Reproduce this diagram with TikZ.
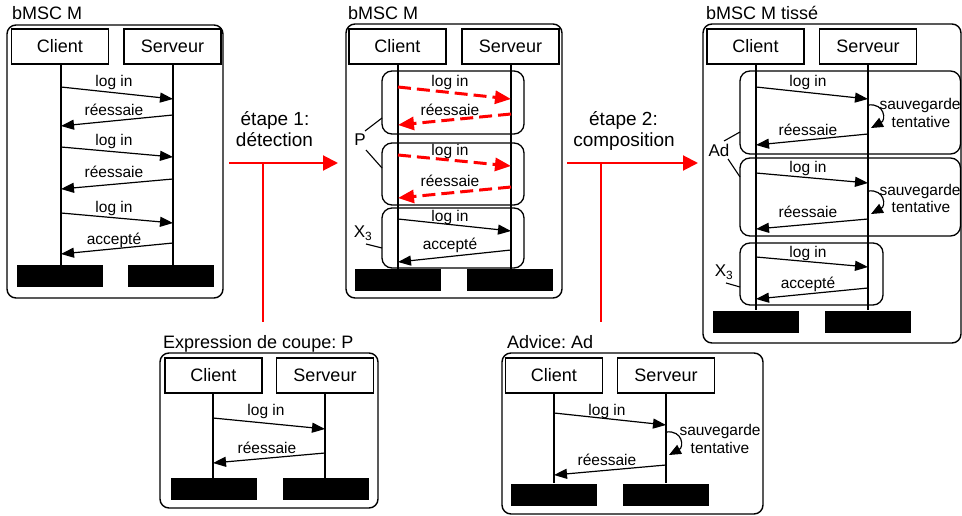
\documentclass[tikz,border=0pt]{standalone}
\usepackage{fontspec}
\setmainfont{Liberation Sans}
\usetikzlibrary{arrows.meta}
\frenchspacing
\begin{document}
\begin{tikzpicture}[x=1pt,y=-1pt,
  frame/.style={draw, line width=1.4pt, rounded corners=9pt},
  head/.style={draw, line width=1.2pt, minimum width=97pt, minimum height=35pt, inner sep=0pt, font=\fontsize{18}{20}\selectfont},
  bar/.style={fill=black, minimum width=86pt, minimum height=22pt, inner sep=0pt},
  life/.style={line width=1.2pt},
  msg/.style={line width=1.2pt, -{Triangle[length=13pt,width=10pt]}},
  rmsg/.style={red, line width=3pt, dash pattern=on 13pt off 6pt, -{Triangle[length=16pt,width=13pt]}},
  loopmsg/.style={line width=1.2pt, -{Triangle[length=12pt,width=10pt]}},
  grp/.style={draw, line width=1.3pt, rounded corners=10pt},
  lbl/.style={font=\fontsize{15.5}{17}\selectfont, inner sep=0pt, anchor=base},
  ttl/.style={font=\fontsize{18}{20}\selectfont, inner sep=0pt, anchor=base west},
  tag/.style={font=\fontsize{17}{19}\selectfont, inner sep=0pt},
  steplbl/.style={font=\fontsize{19}{21}\selectfont, inner sep=0pt, anchor=base},
  rarrow/.style={red, line width=2pt, -{Triangle[length=15pt,width=15pt]}},
  rline/.style={red, line width=2pt},
  tie/.style={line width=1.1pt}
]
\useasboundingbox (0,0) rectangle (962,516);
\clip (0,0) rectangle (962,516);

% ===== Left bMSC M =====
\node[ttl] (t1) at (12,20) {bMSC M};
\draw[frame] (7,25) rectangle (223,298);
\node[head] (c1) at (60,46.5) {Client};
\node[head] (s1) at (172.5,46.5) {Serveur};
\node[bar] (cb1) at (60,276) {};
\node[bar] (sb1) at (171,276) {};
\draw[life] (61,64) -- (61,265);
\draw[life] (173,64) -- (173,265);
\draw[msg] (61,87) -- (173,99);   \node[lbl] at (114,87) {log in};
\draw[msg] (173,115) -- (61,126); \node[lbl] at (114,116) {réessaie};
\draw[msg] (61,147) -- (173,157); \node[lbl] at (114,146) {log in};
\draw[msg] (173,179) -- (61,189); \node[lbl] at (114,178) {réessaie};
\draw[msg] (61,213) -- (173,223); \node[lbl] at (114,212) {log in};
\draw[msg] (173,243) -- (61,254); \node[lbl] at (114,244) {accepté};

% ===== Step 1 =====
\node[steplbl] (e1a) at (275,126) {étape 1:};
\node[steplbl] (e1b) at (274.5,147) {détection};
\coordinate (a1s) at (229,163);
\coordinate (a1e) at (338,163);
\coordinate (a1j) at (263,163);
\coordinate (a1b) at (263,322);
\draw[rarrow] (a1s) -- (a1e);
\draw[rline] (a1j) -- (a1b);

% ===== Middle bMSC M =====
\node[ttl] (t2) at (348,20) {bMSC M};
\draw[frame] (346,24) rectangle (562,298);
\node[head] (c2) at (397.5,46.5) {Client};
\node[head] (s2) at (510.5,46.5) {Serveur};
\node[bar] (cb2) at (398,280) {};
\node[bar] (sb2) at (510,280) {};
\draw[grp] (382,71) rectangle (524,134);
\draw[grp] (382,143) rectangle (524,205);
\draw[grp] (382,208) rectangle (524,268);
\draw[life] (398,64) -- (398,269);
\draw[life] (511,64) -- (511,269);
\draw[rmsg] (398,87) -- (511,99);  \node[lbl] at (450,87) {log in};
\draw[rmsg] (511,114) -- (398,125); \node[lbl] at (450,116) {réessaie};
\draw[rmsg] (398,155) -- (511,166); \node[lbl] at (450,156) {log in};
\draw[rmsg] (511,187) -- (398,198); \node[lbl] at (450,187) {réessaie};
\draw[msg] (398,219) -- (511,231);  \node[lbl] at (450,222) {log in};
\draw[msg] (511,250) -- (398,262);  \node[lbl] at (450,250) {accepté};
\node[tag] (P) at (360,140) {P};
\draw[tie] (365,131) -- (382,118);
\draw[tie] (366,150) -- (382,168);
\node[tag] (X3a) at (363,233) {X\textsubscript{3}};
\draw[tie] (366,244) -- (382,248);

% ===== Step 2 =====
\node[steplbl] (e2a) at (623.5,126) {étape 2:};
\node[steplbl] (e2b) at (624,147) {composition};
\coordinate (a2s) at (567,163);
\coordinate (a2e) at (698,163);
\coordinate (a2j) at (601,163);
\coordinate (a2b) at (601,322);
\draw[rarrow] (a2s) -- (a2e);
\draw[rline] (a2j) -- (a2b);

% ===== Right bMSC M tissé =====
\node[ttl] (t3) at (706,20) {bMSC M tissé};
\draw[frame] (703,24) rectangle (961,343);
\node[head] (c3) at (755.5,46.5) {Client};
\node[head] (s3) at (868,46.5) {Serveur};
\node[bar] (cb3) at (755.5,321.5) {};
\node[bar] (sb3) at (868,321.5) {};
\draw[grp] (740,71) rectangle (960.5,154);
\draw[grp] (740,158) rectangle (960.5,236);
\draw[grp] (740,243) rectangle (883,305);
\draw[life] (756,64) -- (756,310);
\draw[life] (868,64) -- (868,310);
\draw[msg] (756,87) -- (868,99);   \node[lbl] at (808,87) {log in};
\draw[loopmsg] (868,105) .. controls (885,103) and (886,120) .. (871,128);
\node[lbl] at (920,110) {sauvegarde};
\node[lbl] at (921,128) {tentative};
\draw[msg] (868,134) -- (756,145); \node[lbl] at (808,136) {réessaie};
\draw[msg] (756,173) -- (868,183); \node[lbl] at (808,173) {log in};
\draw[loopmsg] (868,191) .. controls (885,189) and (886,206) .. (871,214);
\node[lbl] at (920,196) {sauvegarde};
\node[lbl] at (921,213) {tentative};
\draw[msg] (868,219) -- (756,229); \node[lbl] at (808,218) {réessaie};
\draw[msg] (756,257) -- (868,267); \node[lbl] at (808,257) {log in};
\draw[msg] (868,288) -- (756,299); \node[lbl] at (808,288) {accepté};
\node[tag] (Ad) at (719,150) {Ad};
\draw[tie] (724,141) -- (740,132);
\draw[tie] (728,159) -- (740,177);
\node[tag] (X3b) at (724,272) {X\textsubscript{3}};
\draw[tie] (726,283) -- (740,287);

% ===== Bottom left: Expression de coupe =====
\node[ttl] (t4) at (163,348) {Expression de coupe: P};
\draw[frame] (160,353) rectangle (378,508);
\node[head] (c4) at (213.5,375.5) {Client};
\node[head] (s4) at (325,375.5) {Serveur};
\node[bar] (cb4) at (214,489) {};
\node[bar] (sb4) at (325.5,489) {};
\draw[life] (213,393) -- (213,478);
\draw[life] (325,393) -- (325,478);
\draw[msg] (213,418) -- (325,429); \node[lbl] at (266,415) {log in};
\draw[msg] (325,453) -- (213,463); \node[lbl] at (267,453) {réessaie};

% ===== Bottom right: Advice =====
\node[ttl] (t5) at (507,348) {Advice: Ad};
\draw[frame] (502,353) rectangle (763,514);
\node[head] (c5) at (554,375.5) {Client};
\node[head] (s5) at (666,375.5) {Serveur};
\node[bar] (cb5) at (554,494.5) {};
\node[bar] (sb5) at (666,494.5) {};
\draw[life] (554,393) -- (554,483);
\draw[life] (666,393) -- (666,483);
\draw[msg] (554,413) -- (666,425); \node[lbl] at (607,415) {log in};
\draw[loopmsg] (666,432) .. controls (683,430) and (684,447) .. (669,455);
\node[lbl] at (720,435) {sauvegarde};
\node[lbl] at (720,453) {tentative};
\draw[msg] (666,465) -- (554,475); \node[lbl] at (607,465) {réessaie};
\end{tikzpicture}
\end{document}
